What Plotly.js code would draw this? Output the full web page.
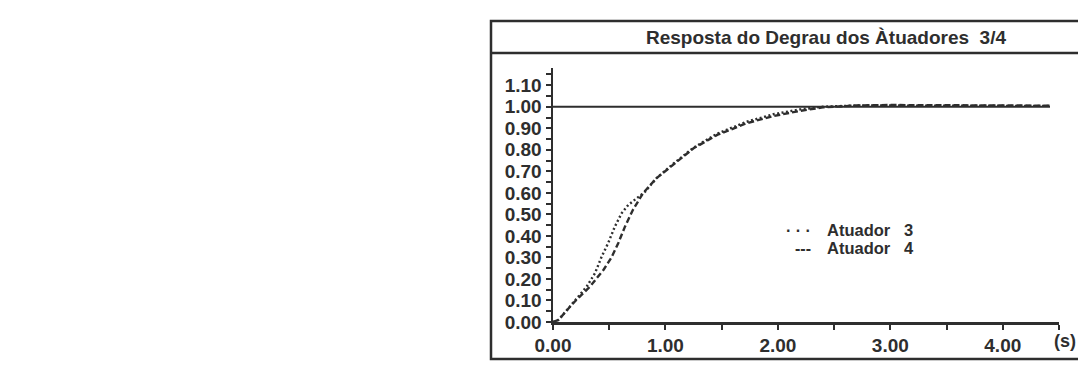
<!DOCTYPE html>
<html>
<head>
<meta charset="utf-8">
<script src="https://cdn.plot.ly/plotly-3.0.1.min.js"></script>
<style>
  html, body { margin: 0; padding: 0; background: #ffffff; }
  #chart { width: 1078px; height: 374px; }
</style>
</head>
<body>
<div id="chart"></div>
<script>
// Step reference (input)
const refTime = [0, 4.42];
const refValue = [1.0, 1.0];

// Atuador 3 (dotted)
const act3Time = [0, 0.05, 0.18, 0.30, 0.374, 0.433, 0.49, 0.55, 0.61, 0.67, 0.745, 0.82, 0.92, 1.07, 1.25, 1.46, 1.72, 1.96, 2.20, 2.40, 2.70, 3.0, 3.3, 3.6, 3.9, 4.2, 4.42];
const act3Value = [0, 0.01, 0.09, 0.165, 0.227, 0.304, 0.366, 0.443, 0.505, 0.544, 0.575, 0.606, 0.668, 0.735, 0.81, 0.875, 0.93, 0.965, 0.988, 1.0, 1.006, 1.005, 1.006, 1.004, 1.005, 1.004, 1.004];

// Atuador 4 (dashed)
const act4Time = [0, 0.05, 0.18, 0.33, 0.45, 0.52, 0.58, 0.64, 0.71, 0.80, 0.92, 1.07, 1.25, 1.46, 1.72, 1.96, 2.20, 2.40, 2.70, 3.0, 3.3, 3.6, 3.9, 4.2, 4.42];
const act4Value = [0, 0.01, 0.088, 0.165, 0.243, 0.30, 0.366, 0.443, 0.52, 0.598, 0.668, 0.73, 0.807, 0.869, 0.923, 0.957, 0.981, 0.997, 1.006, 1.008, 1.007, 1.009, 1.006, 1.007, 1.005];

const titleText = 'Resposta do Degrau dos Àtuadores&nbsp;&nbsp;3/4';
const legendLabels = ['Atuador&nbsp;&nbsp;&nbsp;3', 'Atuador&nbsp;&nbsp;&nbsp;4'];
const unitLabel = '(s)';

const ink = '#2e2e2e';
const FONT = 'Liberation Sans, Arial, Helvetica, sans-serif';

// plot area in px: x 553..1059, y 68..322
const L = 553, R = 19, T = 68, B = 52;
const W = 1078, H = 374;
const pw = W - L - R, ph = H - T - B;
const px = v => (v - L) / pw;
const py = v => (H - B - v) / ph;

const traces = [
  { x: refTime, y: refValue, mode: 'lines', line: { color: ink, width: 2.2 }, showlegend: false, hoverinfo: 'skip' },
  { x: act3Time, y: act3Value, mode: 'lines', name: 'Atuador 3', line: { color: ink, width: 2.4, dash: '2px,2.5px' }, showlegend: false },
  { x: act4Time, y: act4Value, mode: 'lines', name: 'Atuador 4', line: { color: ink, width: 2.4, dash: '6px,3px' }, showlegend: false }
];

const layout = {
  width: W, height: H,
  margin: { l: L, r: R, t: T, b: B, pad: 0 },
  paper_bgcolor: '#ffffff',
  plot_bgcolor: 'rgba(0,0,0,0)',
  showlegend: false,
  title: {
    text: titleText,
    x: 826 / W, xanchor: 'center', xref: 'container',
    y: 1 - 37 / H, yanchor: 'middle', yref: 'container',
    font: { family: FONT, size: 19, color: ink, weight: 'bold' }
  },
  xaxis: {
    range: [0, 4.5],
    tickvals: [0, 1, 2, 3, 4],
    tickformat: '.2f',
    ticks: 'outside', ticklen: 5, tickwidth: 2, tickcolor: ink,
    minor: { dtick: 0.5, tick0: 0, ticks: 'outside', ticklen: 5, tickwidth: 2, tickcolor: ink },
    showline: true, linecolor: ink, linewidth: 2.5,
    showgrid: false, zeroline: false,
    tickfont: { family: FONT, size: 19, color: ink, weight: 'bold' },
    fixedrange: true
  },
  yaxis: {
    range: [0, 1.18],
    tick0: 0, dtick: 0.1,
    tickformat: '.2f',
    ticks: 'outside', ticklen: 5, tickwidth: 2, tickcolor: ink,
    minor: { dtick: 0.05, tick0: 0, ticks: 'outside', ticklen: 5, tickwidth: 2, tickcolor: ink },
    showline: true, linecolor: ink, linewidth: 2.5,
    showgrid: false, zeroline: false,
    tickfont: { family: FONT, size: 19, color: ink, weight: 'bold' },
    fixedrange: true
  },
  shapes: [
    { type: 'rect', xref: 'paper', yref: 'paper', x0: px(491), x1: px(1095), y0: py(359), y1: py(21), line: { color: ink, width: 2.5 }, fillcolor: 'rgba(0,0,0,0)', layer: 'below' },
    { type: 'line', xref: 'paper', yref: 'paper', x0: px(491), x1: px(1095), y0: py(53), y1: py(53), line: { color: ink, width: 2.5 } }
  ],
  annotations: [
    { xref: 'paper', yref: 'paper', x: px(813), y: py(230), xanchor: 'right', yanchor: 'middle', text: '· · ·', showarrow: false, font: { family: FONT, size: 16, color: ink, weight: 'bold' } },
    { xref: 'paper', yref: 'paper', x: px(825), y: py(230), xanchor: 'left', yanchor: 'middle', text: legendLabels[0], showarrow: false, font: { family: FONT, size: 16.5, color: ink, weight: 'bold' } },
    { xref: 'paper', yref: 'paper', x: px(813), y: py(248), xanchor: 'right', yanchor: 'middle', text: '‑‑‑', showarrow: false, font: { family: FONT, size: 16, color: ink, weight: 'bold' } },
    { xref: 'paper', yref: 'paper', x: px(825), y: py(248), xanchor: 'left', yanchor: 'middle', text: legendLabels[1], showarrow: false, font: { family: FONT, size: 16.5, color: ink, weight: 'bold' } },
    { xref: 'paper', yref: 'paper', x: px(1065), y: py(341), xanchor: 'center', yanchor: 'middle', text: unitLabel, showarrow: false, font: { family: FONT, size: 18, color: ink, weight: 'bold' } }
  ]
};

Plotly.newPlot('chart', traces, layout, { staticPlot: true, displayModeBar: false });
</script>
</body>
</html>
